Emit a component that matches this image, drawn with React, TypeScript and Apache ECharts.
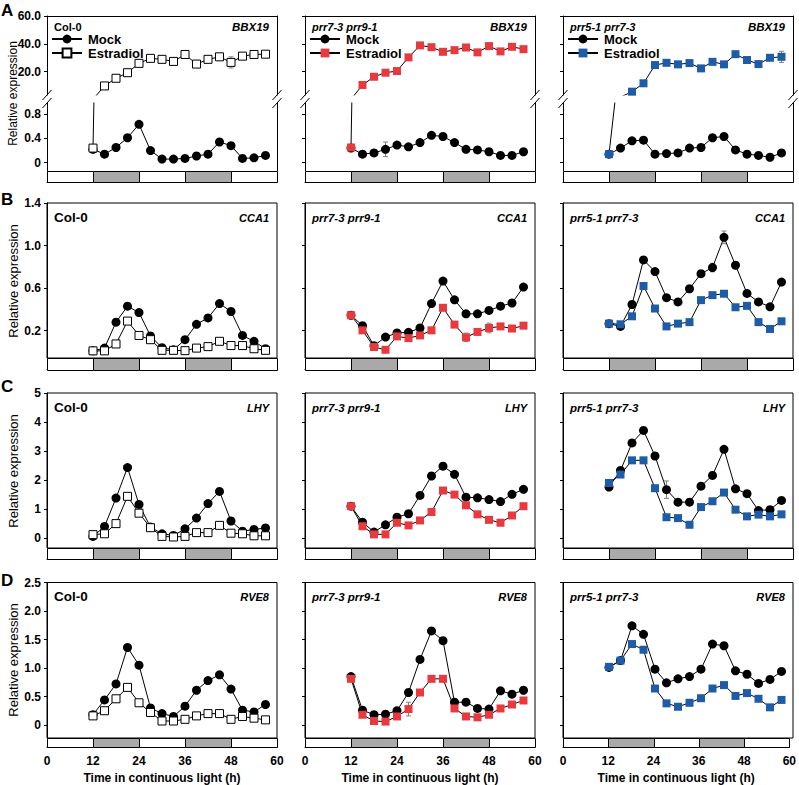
import React, { useEffect, useRef } from 'react';
import * as echarts from 'echarts';

// ---------------- DATA ----------------
const times = [12, 15, 18, 21, 24, 27, 30, 33, 36, 39, 42, 45, 48, 51, 54, 57];
const genotypes = ['Col-0', 'prr7-3 prr9-1', 'prr5-1 prr7-3'];
const genes = ['BBX19', 'CCA1', 'LHY', 'RVE8'];
const panelLetters = ['A', 'B', 'C', 'D'];
const treatments = ['Mock', 'Estradiol'];
const xTitle = 'Time in continuous light (h)';
const yTitle = 'Relative expression';

const bbx19Mock = [
  [0.22, 0.14, 0.25, 0.41, 0.63, 0.2, 0.06, 0.06, 0.07, 0.11, 0.14, 0.34, 0.28, 0.07, 0.08, 0.12],
  [0.24, 0.14, 0.16, 0.22, 0.29, 0.26, 0.33, 0.45, 0.43, 0.33, 0.22, 0.21, 0.18, 0.12, 0.12, 0.18],
  [0.14, 0.24, 0.36, 0.37, 0.14, 0.15, 0.16, 0.24, 0.25, 0.41, 0.43, 0.21, 0.14, 0.12, 0.09, 0.16],
];
const bbx19Estradiol = [
  [0.24, 9.8, 15.3, 19.3, 26.0, 29.6, 28.9, 27.4, 32.4, 25.5, 28.9, 30.7, 26.7, 31.2, 32.4, 32.6],
  [0.25, 10.5, 16.4, 19.3, 20.5, 30.3, 38.9, 37.6, 34.3, 35.5, 37.4, 33.9, 38.4, 34.6, 37.9, 36.2],
  [0.14, 1.8, 5.7, 11.7, 24.8, 26.4, 25.3, 26.2, 22.4, 27.1, 25.3, 32.6, 28.4, 25.5, 30.0, 30.7],
];
const cca1Mock = [
  [0.01, 0.036, 0.28, 0.43, 0.37, 0.15, 0.04, 0.02, 0.115, 0.26, 0.32, 0.455, 0.38, 0.155, 0.1, 0.03],
  [0.345, 0.247, 0.058, 0.14, 0.178, 0.184, 0.225, 0.455, 0.666, 0.49, 0.358, 0.358, 0.39, 0.43, 0.46, 0.61],
  [0.266, 0.24, 0.446, 0.865, 0.755, 0.51, 0.47, 0.594, 0.736, 0.793, 1.077, 0.815, 0.55, 0.47, 0.424, 0.657],
];
const cca1Estradiol = [
  [0.01, 0.01, 0.075, 0.29, 0.155, 0.115, 0.015, 0.015, 0.012, 0.036, 0.05, 0.1, 0.06, 0.06, 0.03, 0.015],
  [0.345, 0.203, 0.046, 0.02, 0.146, 0.13, 0.155, 0.203, 0.415, 0.257, 0.137, 0.188, 0.225, 0.24, 0.22, 0.247],
  [0.266, 0.26, 0.335, 0.62, 0.408, 0.24, 0.266, 0.28, 0.487, 0.534, 0.547, 0.42, 0.433, 0.28, 0.216, 0.288],
];
const lhyMock = [
  [0.06, 0.4, 1.38, 2.43, 1.16, 0.38, 0.15, 0.09, 0.32, 0.69, 1.19, 1.61, 0.59, 0.24, 0.3, 0.35],
  [1.1, 0.55, 0.21, 0.46, 0.72, 0.84, 1.47, 2.14, 2.48, 2.2, 1.41, 1.39, 1.33, 1.26, 1.51, 1.68],
  [1.76, 2.33, 3.28, 3.71, 2.83, 1.67, 1.24, 1.24, 1.79, 2.16, 3.06, 1.7, 1.53, 0.95, 0.98, 1.3],
];
const lhyEstradiol = [
  [0.12, 0.15, 0.5, 1.44, 0.86, 0.36, 0.06, 0.04, 0.06, 0.19, 0.19, 0.44, 0.17, 0.15, 0.08, 0.08],
  [1.1, 0.41, 0.13, 0.13, 0.53, 0.44, 0.61, 0.9, 1.64, 1.5, 1.13, 0.82, 0.63, 0.53, 0.78, 1.1],
  [1.9, 2.19, 2.68, 2.68, 1.72, 0.72, 0.69, 0.46, 1.07, 1.27, 1.57, 0.98, 0.75, 0.81, 0.75, 0.82],
];
const rve8Mock = [
  [0.18, 0.44, 0.72, 1.36, 1.05, 0.3, 0.2, 0.15, 0.33, 0.61, 0.78, 0.88, 0.63, 0.26, 0.23, 0.36],
  [0.85, 0.26, 0.18, 0.19, 0.25, 0.57, 1.15, 1.65, 1.48, 0.4, 0.4, 0.29, 0.28, 0.6, 0.54, 0.61],
  [1.01, 1.13, 1.74, 1.59, 0.98, 0.74, 0.81, 0.85, 0.98, 1.42, 1.39, 0.95, 0.89, 0.73, 0.8, 0.94],
];
const rve8Estradiol = [
  [0.16, 0.25, 0.46, 0.66, 0.39, 0.22, 0.07, 0.07, 0.1, 0.16, 0.2, 0.2, 0.1, 0.15, 0.12, 0.09],
  [0.81, 0.18, 0.07, 0.06, 0.15, 0.28, 0.57, 0.81, 0.81, 0.29, 0.15, 0.135, 0.18, 0.29, 0.36, 0.43],
  [1.02, 1.13, 1.42, 1.32, 0.64, 0.38, 0.32, 0.39, 0.47, 0.64, 0.7, 0.51, 0.56, 0.46, 0.31, 0.44],
];

// error bars: [time, mean, error]
const bbx19Err = [[[45, 0.34, 0.04], [48, 26.7, 4]], [[21, 0.22, 0.12]], [[57, 30.7, 4]]];
const cca1Err = [[], [[42, 0.137, 0.04], [48, 0.225, 0.045]], [[36, 0.736, 0.03], [39, 0.793, 0.04], [42, 1.077, 0.06]]];
const lhyErr = [[], [[33, 2.14, 0.1], [36, 2.48, 0.12], [48, 1.33, 0.1], [54, 1.51, 0.1]], [[21, 3.71, 0.1], [27, 1.67, 0.3], [39, 2.16, 0.12]]];
const rve8Err = [[], [[27, 0.28, 0.12], [33, 1.65, 0.05]], []];

// light / dark strip: [start, end, dark]
const stripBlocks = [[0, 12, 0], [12, 24, 1], [24, 36, 0], [36, 48, 1], [48, 60, 0]];

const xTicks = [0, 12, 24, 36, 48, 60];
const xLabels = ['0', '12', '24', '36', '48', '60'];
const ticksAUpper = [20, 40, 60];
const labelsAUpper = ['20.0', '40.0', '60.0'];
const ticksALower = [0, 0.4, 0.8];
const labelsALower = ['0', '0.4', '0.8'];
const ticksB = [0.2, 0.6, 1.0, 1.4];
const labelsB = ['0.2', '0.6', '1.0', '1.4'];
const ticksC = [0, 1, 2, 3, 4, 5];
const labelsC = ['0', '1', '2', '3', '4', '5'];
const ticksD = [0, 0.5, 1, 1.5, 2, 2.5];
const labelsD = ['0', '0.5', '1.0', '1.5', '2.0', '2.5'];

// ---------------- LAYOUT / STYLE ----------------
const FONT = '"Liberation Sans", Arial, Helvetica, sans-serif';
const COL_LEFT = [47, 305, 563];
const COL_W = 230;
const ROW_TOP = [16, 203, 393, 582.5];
const ROW_DATA_BOTTOM = [171, 358, 548, 738];
const ROW_STRIP_BOTTOM = [182, 369.5, 559, 748];
const A_UPPER_BOTTOM = 95;
const A_LOWER_TOP = 103;
const A_UPPER_RANGE = [3.3, 60];
const A_LOWER_RANGE = [-0.136, 0.98];
const ROW_RANGE = [null, [-0.057, 1.4], [-0.34, 5], [-0.228, 2.5]];
const EST_COLORS = ['#ffffff', '#e8393e', '#1f5ca8'];
const GRAY = '#a9a9a9';

const mockData = [bbx19Mock, cca1Mock, lhyMock, rve8Mock];
const estData = [bbx19Estradiol, cca1Estradiol, lhyEstradiol, rve8Estradiol];
const errData = [bbx19Err, cca1Err, lhyErr, rve8Err];
const rowTicks = [null, ticksB, ticksC, ticksD];
const rowLabels = [null, labelsB, labelsC, labelsD];

const labelFor = (ticks: number[], labels: string[], v: number) => {
  const i = ticks.findIndex((t) => Math.abs(t - v) < 1e-6);
  return i >= 0 ? labels[i] : '';
};

const axisLineBlack = { show: true, lineStyle: { color: '#000', width: 1 } };

function yAxisDef(gridIndex: number, min: number, max: number, ticks: number[] | null, labels: string[] | null, showLabels: boolean, position = 'left') {
  return {
    type: 'value',
    gridIndex,
    min,
    max,
    position,
    axisLine: axisLineBlack,
    axisTick: ticks
      ? { show: true, inside: false, length: 3, customValues: ticks, lineStyle: { color: '#000' } }
      : { show: false },
    axisLabel:
      showLabels && ticks && labels
        ? {
            show: true,
            customValues: ticks,
            formatter: (v: number) => labelFor(ticks, labels, v),
            color: '#000',
            fontWeight: 'bold',
            fontSize: 12,
            fontFamily: FONT,
            margin: 6,
          }
        : { show: false },
    splitLine: { show: false },
  };
}

function buildOption() {
  const grids: any[] = [];
  const xAxes: any[] = [];
  const yAxes: any[] = [];
  const series: any[] = [];
  const graphics: any[] = [];
  const legends: any[] = [];

  const lineSeries = (c: number, t: number, values: number[], xi: number, yi: number) => {
    const isMock = t === 0;
    return {
      type: 'line',
      name: `${treatments[t]}|${c}`,
      xAxisIndex: xi,
      yAxisIndex: yi,
      data: times.map((tm, i) => [tm, values[i]]),
      symbol: isMock ? 'circle' : 'rect',
      symbolSize: isMock ? 9 : 8,
      showSymbol: true,
      clip: true,
      itemStyle: isMock
        ? { color: '#000' }
        : { color: EST_COLORS[c], borderColor: c === 0 ? '#000' : EST_COLORS[c], borderWidth: c === 0 ? 1 : 0 },
      lineStyle: { color: '#000', width: 1 },
      emphasis: { disabled: true },
      z: isMock ? 3 : 4,
    };
  };

  const errSeries = (items: number[][], xi: number, yi: number) => ({
    type: 'custom',
    xAxisIndex: xi,
    yAxisIndex: yi,
    data: items.map((e) => [e[0], e[1] - e[2], e[1] + e[2]]),
    silent: true,
    z: 2,
    renderItem: (_p: any, api: any) => {
      const lo = api.coord([api.value(0), api.value(1)]);
      const hi = api.coord([api.value(0), api.value(2)]);
      const st = { stroke: '#808080', lineWidth: 1 };
      return {
        type: 'group',
        children: [
          { type: 'line', shape: { x1: lo[0], y1: lo[1], x2: hi[0], y2: hi[1] }, style: st },
          { type: 'line', shape: { x1: lo[0] - 2.5, y1: lo[1], x2: lo[0] + 2.5, y2: lo[1] }, style: st },
          { type: 'line', shape: { x1: hi[0] - 2.5, y1: hi[1], x2: hi[0] + 2.5, y2: hi[1] }, style: st },
        ],
      };
    },
  });

  for (let r = 0; r < 4; r++) {
    for (let c = 0; c < 3; c++) {
      const L = COL_LEFT[c];
      if (r === 0) {
        // upper part
        grids.push({ left: L, top: ROW_TOP[0], width: COL_W, height: A_UPPER_BOTTOM - ROW_TOP[0], show: false });
        const gU = grids.length - 1;
        xAxes.push({
          type: 'value', gridIndex: gU, min: 0, max: 60, position: 'top',
          axisLine: axisLineBlack, axisTick: { show: false }, axisLabel: { show: false }, splitLine: { show: false },
        });
        const xU = xAxes.length - 1;
        yAxes.push(yAxisDef(gU, A_UPPER_RANGE[0], A_UPPER_RANGE[1], ticksAUpper, labelsAUpper, c === 0));
        const yU = yAxes.length - 1;
        yAxes.push(yAxisDef(gU, A_UPPER_RANGE[0], A_UPPER_RANGE[1], null, null, false, 'right'));
        // lower part
        grids.push({ left: L, top: A_LOWER_TOP, width: COL_W, height: ROW_DATA_BOTTOM[0] - A_LOWER_TOP, show: false });
        const gL = grids.length - 1;
        xAxes.push({ type: 'value', gridIndex: gL, min: 0, max: 60, show: false });
        const xL = xAxes.length - 1;
        yAxes.push(yAxisDef(gL, A_LOWER_RANGE[0], A_LOWER_RANGE[1], ticksALower, labelsALower, c === 0));
        const yL = yAxes.length - 1;
        yAxes.push(yAxisDef(gL, A_LOWER_RANGE[0], A_LOWER_RANGE[1], null, null, false, 'right'));

        const errs = errData[r][c];
        series.push(errSeries(errs.filter((e) => e[1] > 2), xU, yU));
        series.push(errSeries(errs.filter((e) => e[1] <= 2), xL, yL));
        series.push(lineSeries(c, 0, mockData[r][c], xL, yL));
        series.push(lineSeries(c, 1, estData[r][c], xL, yL));
        series.push(lineSeries(c, 1, estData[r][c], xU, yU));

        // axis break marks
        [L, L + COL_W].forEach((bx) => {
          [A_UPPER_BOTTOM, A_LOWER_TOP].forEach((by) => {
            graphics.push({
              type: 'line',
              shape: { x1: bx - 4.5, y1: by + 5, x2: bx + 4.5, y2: by - 5 },
              style: { stroke: '#000', lineWidth: 1 },
              silent: true,
            });
          });
        });

        legends.push({
          orient: 'vertical',
          left: L + 4,
          top: 32.5,
          padding: 0,
          itemWidth: 30,
          itemHeight: 11,
          itemGap: 1,
          selectedMode: false,
          data: treatments.map((t) => `${t}|${c}`),
          formatter: (n: string) => n.split('|')[0],
          textStyle: { fontSize: 13, fontWeight: 'bold', color: '#000', fontFamily: FONT, padding: [0, 0, 0, 1] },
        });
      } else {
        const range = ROW_RANGE[r] as number[];
        grids.push({
          left: L, top: ROW_TOP[r], width: COL_W, height: ROW_DATA_BOTTOM[r] - ROW_TOP[r],
          show: true, borderColor: '#000', borderWidth: 1, backgroundColor: 'transparent',
        });
        const g = grids.length - 1;
        xAxes.push({ type: 'value', gridIndex: g, min: 0, max: 60, show: false });
        const xi = xAxes.length - 1;
        yAxes.push(yAxisDef(g, range[0], range[1], rowTicks[r] as number[], rowLabels[r] as string[], c === 0));
        const yi = yAxes.length - 1;
        series.push(errSeries(errData[r][c], xi, yi));
        series.push(lineSeries(c, 0, mockData[r][c], xi, yi));
        series.push(lineSeries(c, 1, estData[r][c], xi, yi));
      }

      // light/dark strip
      grids.push({ left: L, top: ROW_DATA_BOTTOM[r], width: COL_W, height: ROW_STRIP_BOTTOM[r] - ROW_DATA_BOTTOM[r], show: false });
      const gs = grids.length - 1;
      const bottomRow = r === 3;
      xAxes.push({
        type: 'value', gridIndex: gs, min: 0, max: 60, position: 'bottom',
        axisLine: axisLineBlack,
        axisTick: { show: false },
        axisLabel: bottomRow
          ? {
              show: true, customValues: xTicks, formatter: (v: number) => labelFor(xTicks, xLabels, v),
              color: '#000', fontWeight: 'bold', fontSize: 12, fontFamily: FONT, margin: 8,
              showMinLabel: true, showMaxLabel: true,
            }
          : { show: false },
        splitLine: { show: false },
        name: bottomRow ? xTitle : '',
        nameLocation: 'middle',
        nameGap: 25,
        nameTextStyle: { color: '#000', fontWeight: 'bold', fontSize: 12, fontFamily: FONT },
      });
      const xs = xAxes.length - 1;
      yAxes.push({ type: 'value', gridIndex: gs, min: 0, max: 1, show: false });
      const ys = yAxes.length - 1;
      series.push({
        type: 'custom',
        xAxisIndex: xs,
        yAxisIndex: ys,
        data: stripBlocks,
        silent: true,
        z: 1,
        renderItem: (_p: any, api: any) => {
          const s = api.coord([api.value(0), 1]);
          const e = api.coord([api.value(1), 0]);
          const x0 = Math.round(s[0]) + 0.5;
          const x1 = Math.round(e[0]) + 0.5;
          const y0 = Math.round(s[1]) + 0.5;
          const y1 = Math.round(e[1]) + 0.5;
          return {
            type: 'rect',
            shape: { x: x0, y: y0, width: x1 - x0, height: y1 - y0 },
            style: { fill: api.value(2) ? GRAY : '#ffffff', stroke: '#000', lineWidth: 1 },
          };
        },
      });

      // panel texts
      const labelY = [27, 217.5, 407.5, 596.5][r];
      const genoSize = c === 0 ? (r === 0 ? 11 : 13.5) : r === 0 ? 11 : 11.5;
      graphics.push({
        type: 'text', x: L + 7, y: labelY, silent: true,
        style: {
          text: genotypes[c], fill: '#000',
          font: `${c === 0 ? '' : 'italic '}bold ${genoSize}px ${FONT}`,
          textAlign: 'left', textVerticalAlign: 'middle',
        },
      });
      graphics.push({
        type: 'text', x: L + COL_W - 8, y: labelY, silent: true,
        style: { text: genes[r], fill: '#000', font: `italic bold ${r === 0 ? 11.5 : 11}px ${FONT}`, textAlign: 'right', textVerticalAlign: 'middle' },
      });
    }

    graphics.push({
      type: 'text', x: 1, y: [10, 199, 386.5, 580][r], silent: true,
      style: { text: panelLetters[r], fill: '#000', font: `bold 17px ${FONT}`, textAlign: 'left', textVerticalAlign: 'middle' },
    });
    graphics.push({
      type: 'text', x: 13, y: [93.5, 281, 471, 660][r], rotation: Math.PI / 2, silent: true,
      style: { text: yTitle, fill: '#000', font: `${r === 0 ? 12 : 13}px ${FONT}`, textAlign: 'center', textVerticalAlign: 'middle' },
    });
  }

  return {
    animation: false,
    backgroundColor: '#ffffff',
    grid: grids,
    xAxis: xAxes,
    yAxis: yAxes,
    legend: legends,
    series,
    graphic: graphics,
    tooltip: { show: false },
  };
}

export default function App() {
  const ref = useRef<HTMLDivElement>(null);
  useEffect(() => {
    document.body.style.margin = '0';
    if (!ref.current) return;
    const chart = echarts.init(ref.current, null, { renderer: 'svg' });
    chart.setOption(buildOption() as any);
    return () => chart.dispose();
  }, []);
  return (
    <div style={{ position: 'fixed', left: 0, top: 0, width: 799, height: 785, background: '#fff' }}>
      <div ref={ref} style={{ width: 799, height: 785 }} />
    </div>
  );
}
